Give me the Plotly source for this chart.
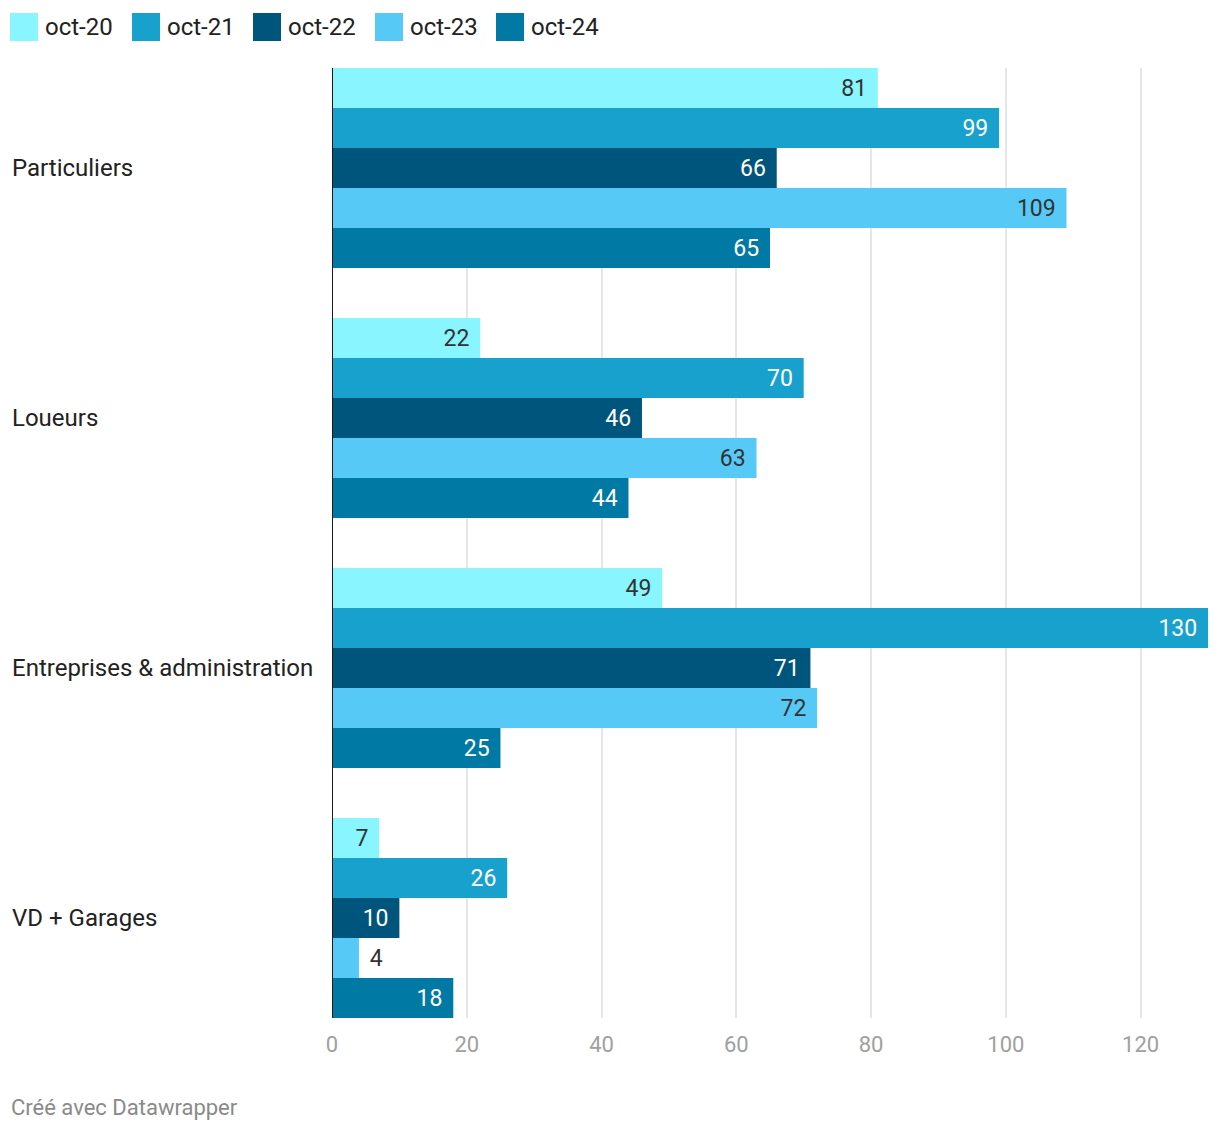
import plotly.graph_objects as go

categories = ["Particuliers", "Loueurs", "Entreprises & administration", "VD + Garages"]
series_names = ["oct-20", "oct-21", "oct-22", "oct-23", "oct-24"]
oct20 = [81, 22, 49, 7]
oct21 = [99, 70, 130, 26]
oct22 = [66, 46, 71, 10]
oct23 = [109, 63, 72, 4]
oct24 = [65, 44, 25, 18]
x_ticks = [0, 20, 40, 60, 80, 100, 120]

series_values = [oct20, oct21, oct22, oct23, oct24]
colors = ["#88F5FF", "#19A1CD", "#00557C", "#57C9F7", "#0079A5"]
inside_text_colors = ["#333333", "#ffffff", "#ffffff", "#333333", "#ffffff"]

W, H = 1220, 1132
ML, MR, MT, MB = 332, 12, 68, 114
PW = W - ML - MR
PH = H - MT - MB

FONT = "Roboto"
SP = "\u2004"

fig = go.Figure()
for name, vals, col, tcol in zip(series_names, series_values, colors, inside_text_colors):
    positions = ["inside" if v >= 6 else "outside" for v in vals]
    templates = ["%{x}" + SP if v >= 6 else SP + "%{x}" for v in vals]
    fig.add_trace(go.Bar(
        y=categories, x=vals, name=name, orientation="h",
        marker=dict(color=col, line=dict(width=0)),
        text=vals, texttemplate=templates, textposition=positions,
        insidetextanchor="end",
        insidetextfont=dict(family=FONT, size=23, color=tcol),
        outsidetextfont=dict(family=FONT, size=23, color="#333333"),
        textangle=0, cliponaxis=False, showlegend=False,
        hoverinfo="x+name",
    ))

def px_x(p):
    return (p - ML) / PW

def px_y(p):
    return 1 - (p - MT) / PH

shapes = []
annotations = []
# legend
legend_x = [10, 132, 253, 375, 496]
for lx, name, col in zip(legend_x, series_names, colors):
    shapes.append(dict(type="rect", xref="paper", yref="paper",
                       x0=px_x(lx), x1=px_x(lx + 28), y0=px_y(41), y1=px_y(13),
                       fillcolor=col, line=dict(width=0)))
    annotations.append(dict(text=name, xref="paper", yref="paper",
                            x=px_x(lx + 33), y=px_y(27), xanchor="left", yanchor="middle",
                            showarrow=False, font=dict(family=FONT, size=24, color="#222222")))

# baseline at zero, above the bars
shapes.append(dict(type="line", xref="x", yref="paper", x0=0, x1=0, y0=0, y1=1,
                   line=dict(color="#1a1a1a", width=2), layer="above"))

# category labels (left aligned)
for c in categories:
    annotations.append(dict(text=c, xref="paper", yref="y", x=px_x(10), y=c,
                            xanchor="left", yanchor="middle", showarrow=False,
                            font=dict(family=FONT, size=24, color="#222222")))

annotations.append(dict(text="Créé avec Datawrapper", xref="paper", yref="paper",
                        x=px_x(9), y=px_y(1107), xanchor="left", yanchor="middle",
                        showarrow=False, font=dict(family=FONT, size=22, color="#8a8a8a")))

fig.update_layout(
    width=W, height=H,
    margin=dict(l=ML, r=MR, t=MT, b=MB, pad=0),
    paper_bgcolor="white", plot_bgcolor="white",
    barmode="group", bargap=0.2, bargroupgap=0,
    showlegend=False,
    shapes=shapes, annotations=annotations,
    xaxis=dict(range=[0, 130], tickvals=x_ticks, showgrid=True, gridcolor="#e6e6e6", gridwidth=2,
               zeroline=False,
               showline=False, ticks="outside", ticklen=7, tickcolor="rgba(0,0,0,0)",
               tickfont=dict(family=FONT, size=22, color="#a0a0a0"), fixedrange=True),
    yaxis=dict(range=[3.4, -0.4], showticklabels=False, showgrid=False, zeroline=False,
               showline=False, fixedrange=True),
    font=dict(family=FONT),
)

fig.write_html("out.html", config={"displayModeBar": False},
               post_script="document.body.style.margin='0';")
